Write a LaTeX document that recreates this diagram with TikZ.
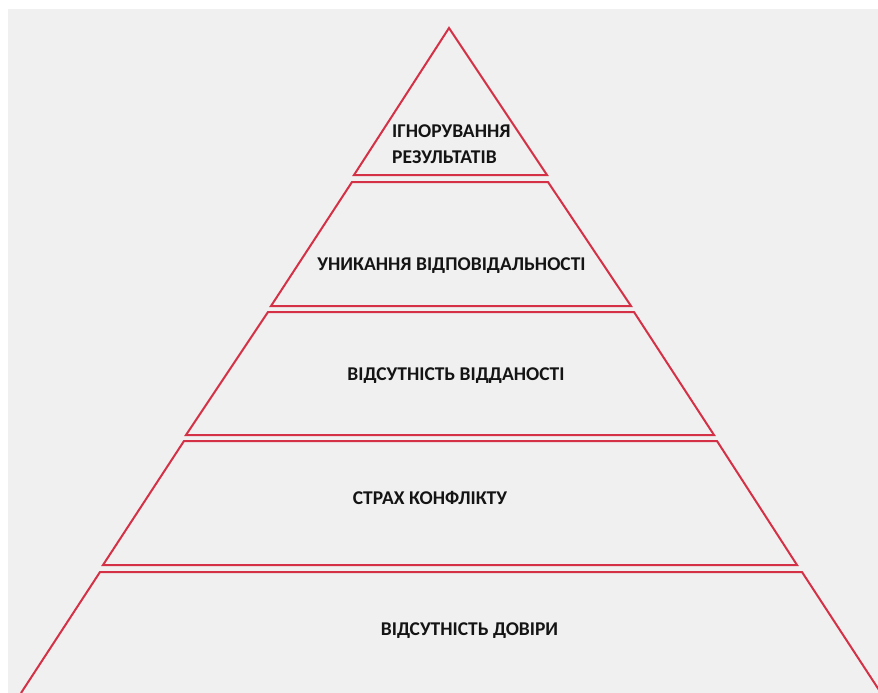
\documentclass[tikz,border=0pt]{standalone}
\usepackage{fontspec}
\setmainfont{Carlito}
\definecolor{bgray}{RGB}{240,240,240}
\definecolor{pred}{RGB}{212,48,70}
\definecolor{txt}{RGB}{20,20,20}
\begin{document}
\begin{tikzpicture}[x=1pt,y=-1pt,
  layer/.style={draw=pred,line width=2pt,line join=miter},
  lbl/.style={font=\fontsize{19.5}{26}\selectfont\bfseries,text=txt,inner sep=0pt}]
\useasboundingbox (0,0) rectangle (878,693);
\fill[bgray] (8,9) rectangle (878,693);
\begin{scope}
\clip (8,9) rectangle (878,693);
\draw[layer] (449,28) -- (547,175) -- (354,175) -- cycle;
\draw[layer] (352,182) -- (548,182) -- (631,306) -- (271,306) -- cycle;
\draw[layer] (268,312) -- (634,312) -- (714,435) -- (186,435) -- cycle;
\draw[layer] (184,441) -- (717,441) -- (797,565) -- (103,565) -- cycle;
\draw[layer] (21,693) -- (100,572) -- (802,572) -- (881,693);
\end{scope}
\node[lbl,anchor=west,align=left] (t1) at (392,144) {ІГНОРУВАННЯ\\РЕЗУЛЬТАТІВ};
\node[lbl] (t2) at (451.5,266) {УНИКАННЯ ВІДПОВІДАЛЬНОСТІ};
\node[lbl] (t3) at (456,376) {ВІДСУТНІСТЬ ВІДДАНОСТІ};
\node[lbl] (t4) at (430,498) {СТРАХ КОНФЛІКТУ};
\node[lbl] (t5) at (469.5,631) {ВІДСУТНІСТЬ ДОВІРИ};
\end{tikzpicture}
\end{document}
